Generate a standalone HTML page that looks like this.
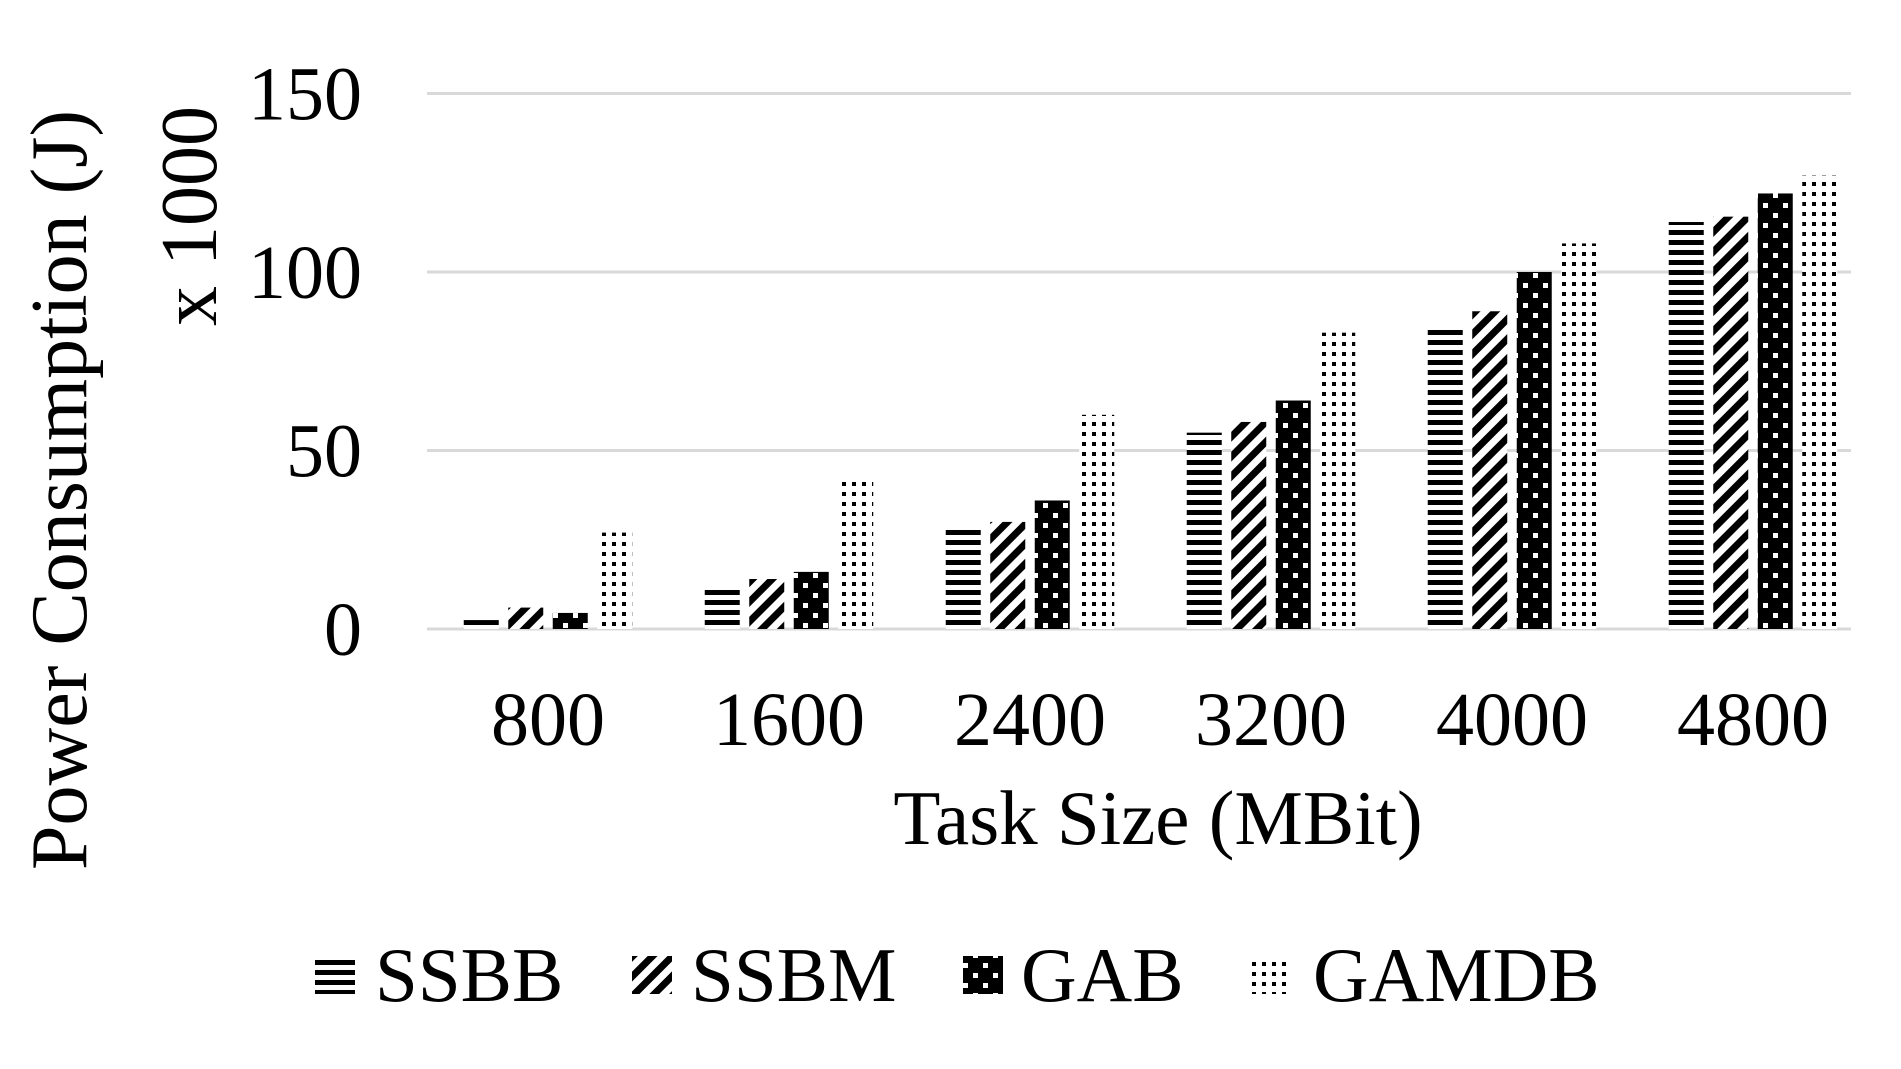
<!DOCTYPE html>
<html><head><meta charset="utf-8"><style>
html,body{margin:0;padding:0;background:#fff;}
svg{display:block;}
text{font-family:"Liberation Serif",serif;fill:#000;}
</style></head><body>
<svg id="chart" width="1901" height="1069" viewBox="0 0 1901 1069" xmlns="http://www.w3.org/2000/svg">
<defs>
<pattern id="pSSBB" patternUnits="userSpaceOnUse" width="10" height="10"><rect width="10" height="10" fill="#fff"/><rect y="0" width="10" height="5" fill="#000"/></pattern>
<pattern id="pSSBM" patternUnits="userSpaceOnUse" width="14" height="14" patternTransform="rotate(45)"><rect width="14" height="14" fill="#fff"/><rect width="7" height="14" fill="#000"/></pattern>
<pattern id="pGAB" patternUnits="userSpaceOnUse" width="20" height="20"><rect width="20" height="20" fill="#000"/><rect x="3" y="3" width="5" height="5" fill="#fff"/><rect x="13" y="13" width="5" height="5" fill="#fff"/></pattern>
<pattern id="pGAMDB" patternUnits="userSpaceOnUse" width="10" height="10"><rect width="10" height="10" fill="#fff"/><rect x="2" y="2" width="4" height="4" fill="#000"/></pattern>
</defs>
<g id="grid"></g>
<g id="bars"></g>
<g id="xlabels"></g>
<g id="ylabels"></g>
<text x="0" y="0" font-size="80" text-anchor="middle" transform="translate(86,490) rotate(-90)">Power Consumption (J)</text>
<text x="0" y="0" font-size="80" text-anchor="middle" transform="translate(216,216) rotate(-90)">x 1000</text>
<text x="1158" y="844" font-size="77" text-anchor="middle">Task Size (MBit)</text>
<g id="legend"></g>
</svg>
<script>
const categories = ["800","1600","2400","3200","4000","4800"];
const seriesNames = ["SSBB","SSBM","GAB","GAMDB"];
const ssbb = [2.5, 11.5, 28, 55, 85, 114];
const ssbm = [6, 14, 30, 58, 89, 115.5];
const gab = [4.5, 16, 36, 64, 100, 122];
const gamdb = [27, 41.5, 60, 83, 108, 127];
const yTicks = [0, 50, 100, 150];

const NS = "http://www.w3.org/2000/svg";
const series = [ssbb, ssbm, gab, gamdb];
const fills = ["url(#pSSBB)","url(#pSSBM)","url(#pGAB)","url(#pGAMDB)"];
const y0 = 629, pxPerUnit = 3.57;
function yScale(v){ return y0 - v * pxPerUnit; }
const catStep = 241, firstCenter = 548, barW = 35, barStep = 44.5;
function xCenter(i){ return firstCenter + i * catStep; }
function xBar(i, j){ return xCenter(i) - 2 * barStep + j * barStep + (barStep - barW) / 2; }
function mk(tag, attrs, parent){ const e = document.createElementNS(NS, tag); for (const k in attrs) e.setAttribute(k, attrs[k]); parent.appendChild(e); return e; }

const grid = document.getElementById('grid');
const yl = document.getElementById('ylabels');
yTicks.forEach(t => {
  const l = mk('line', {x1:427, x2:1851, y1:yScale(t), y2:yScale(t), stroke:'#d9d9d9', 'stroke-width':3}, grid);
  
  
  const tx = mk('text', {x:362, y:yScale(t)+26, 'font-size':76, 'text-anchor':'end'}, yl);
  tx.textContent = t;
  
  
});

const bars = document.getElementById('bars');
series.forEach((s, j) => {
  s.forEach((v, i) => {
    const r = mk('rect', {x:xBar(i,j), y:yScale(v), width:barW, height:y0 - yScale(v), fill:fills[j]}, bars);
    
    
  });
});

const xl = document.getElementById('xlabels');
categories.forEach((c, i) => {
  const tx = mk('text', {x:xCenter(i), y:745, 'font-size':76, 'text-anchor':'middle'}, xl);
  tx.textContent = c;
  
  
});

const leg = document.getElementById('legend');
const swX = [315, 632, 963, 1252];
const txX = [375, 691, 1021, 1313];
seriesNames.forEach((n, j) => {
  const r = mk('rect', {x:swX[j], y:956, width:40, height:38, fill:fills[j]}, leg);
  
  
  const tx = mk('text', {x:txX[j], y:1001, 'font-size':77}, leg);
  tx.textContent = n;
  
  
});
</script>
</body></html>
